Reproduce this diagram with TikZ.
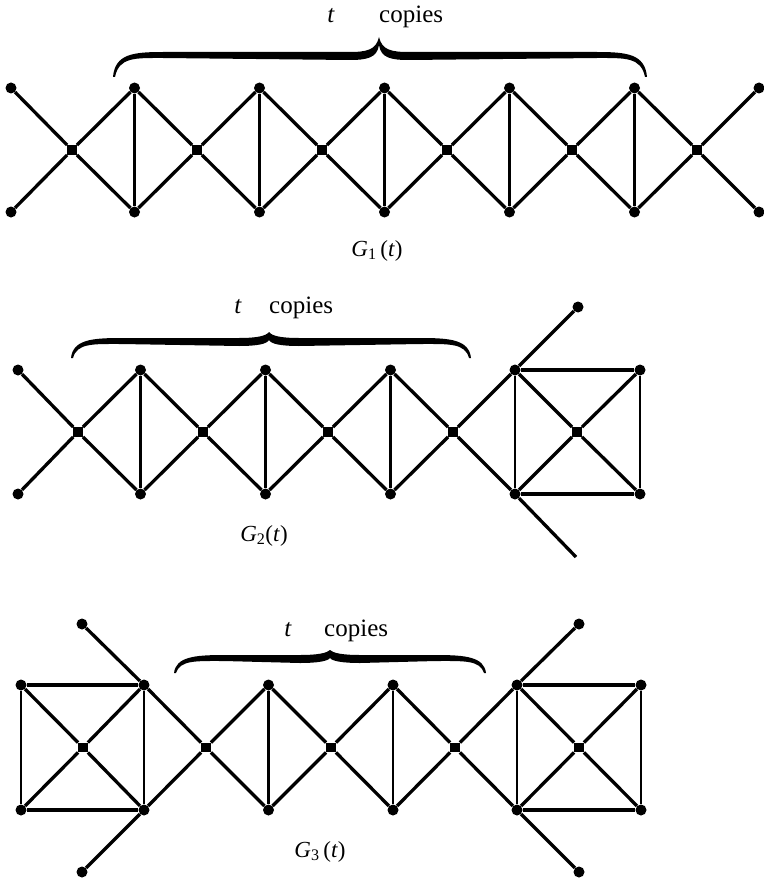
\documentclass[tikz,border=0pt]{standalone}
\usepackage{fontspec}
\setmainfont{Liberation Serif}
\newcommand{\tcbrace}[6]{%
  \fill[black] (#1,#6) .. controls ({#1+2},{#5-1}) and ({#1+20},{#5-3}) .. ({#1+50},{#5-3})
    -- ({#3-30},{#5-3}) .. controls ({#3-12},{#5-3}) and ({#3-3},{#5-5}) .. (#3,#4)
    .. controls ({#3+3},{#5-5}) and ({#3+12},{#5-3}) .. ({#3+30},{#5-3})
    -- ({#2-50},{#5-3}) .. controls ({#2-20},{#5-3}) and ({#2-2},{#5-1}) .. (#2,#6)
    -- ({#2-2},#6) .. controls ({#2-6},{#5+2}) and ({#2-22},{#5+3}) .. ({#2-50},{#5+3})
    -- ({#3+30},{#5+5}) .. controls ({#3+12},{#5+5}) and ({#3+2},{#5+3}) .. (#3,{#4+8})
    .. controls ({#3-2},{#5+3}) and ({#3-12},{#5+5}) .. ({#3-30},{#5+5})
    -- ({#1+50},{#5+3}) .. controls ({#1+22},{#5+3}) and ({#1+6},{#5+2}) .. ({#1+2},#6) -- cycle;}
\begin{document}
\begin{tikzpicture}[x=1pt,y=-1pt,
  dot/.style={circle,fill=black,inner sep=0pt,minimum size=11pt},
  sqv/.style={rectangle,fill=black,inner sep=0pt,minimum size=9.5pt},
  edg/.style={line width=3.3pt},
  vedg/.style={line width=2.8pt},
  lbl/.style={inner sep=0pt,font=\fontsize{25}{30}\selectfont},
  glbl/.style={inner sep=0pt,font=\fontsize{23}{28}\selectfont}]
\fill[white] (0,0) rectangle (763,880);
\useasboundingbox (0,0) rectangle (763,880);

% ---------------- G1 ----------------
\node[dot] (at0) at (11,88) {};
\node[dot] (ab0) at (11,212) {};
\foreach \i in {0,...,5} {\node[sqv] (am\i) at ({72+125*\i},150) {};}
\foreach \i in {1,...,5} {
  \node[dot] (at\i) at ({72+125*\i-62.5},88) {};
  \node[dot] (ab\i) at ({72+125*\i-62.5},212) {};}
\node[dot] (at6) at (759,88) {};
\node[dot] (ab6) at (759,212) {};
\foreach \i [evaluate=\i as \j using int(\i+1)] in {0,...,5} {
  \draw[edg] (am\i) -- (at\i) (am\i) -- (ab\i) (am\i) -- (at\j) (am\i) -- (ab\j);}
\foreach \i in {1,...,5} {\draw[vedg] (at\i) -- (ab\i);}
\tcbrace{113}{647}{379}{37}{55}{77}
\node[lbl,anchor=base] (g1t) at (331,23) {\textit{t}};
\node[lbl,anchor=base west] (g1c) at (379,23) {copies};
\node[glbl,anchor=base] (g1l) at (377,256) {\textit{G}\textsubscript{1}\,(\textit{t})};

% ---------------- G2 ----------------
\node[dot] (bt0) at (18,370) {};
\node[dot] (bb0) at (18,494) {};
\foreach \i in {0,...,3} {\node[sqv] (bm\i) at ({78+125*\i},432) {};}
\foreach \i in {1,...,3} {
  \node[dot] (bt\i) at ({78+125*\i-62.5},370) {};
  \node[dot] (bb\i) at ({78+125*\i-62.5},494) {};}
\node[dot] (bs1) at (515,370) {};
\node[dot] (bs2) at (640,370) {};
\node[dot] (bs3) at (640,494) {};
\node[dot] (bs4) at (515,494) {};
\node[sqv] (bsc) at (577,432) {};
\node[dot] (be1) at (578,307) {};
\coordinate (be2) at (576,557);
\foreach \i [evaluate=\i as \j using int(\i+1)] in {0,...,2} {
  \draw[edg] (bm\i) -- (bt\i) (bm\i) -- (bb\i) (bm\i) -- (bt\j) (bm\i) -- (bb\j);}
\draw[edg] (bm3) -- (bt3) (bm3) -- (bb3);
\foreach \i in {1,...,3} {\draw[vedg] (bt\i) -- (bb\i);}
\draw[edg] (bm3) -- (bs1) -- (be1);
\draw[edg] (bm3) -- (bs4) -- (be2);
\draw[edg] (bs1) -- (bs2) (bs4) -- (bs3);
\draw[vedg] (bs1) -- (bs4) (bs2) -- (bs3);
\draw[edg] (bs1) -- (bsc) -- (bs3) (bs2) -- (bsc) -- (bs4);
\tcbrace{71}{471}{269}{332}{341}{358}
\node[lbl,anchor=base] (g2t) at (238,313) {\textit{t}};
\node[lbl,anchor=base west] (g2c) at (269,313) {copies};
\node[glbl,anchor=base] (g2l) at (264,541) {\textit{G}\textsubscript{2}(\textit{t})};

% ---------------- G3 ----------------
\node[dot] (cs1) at (21,685) {};
\node[dot] (cs2) at (144,685) {};
\node[dot] (cs3) at (144,810) {};
\node[dot] (cs4) at (21,810) {};
\node[sqv] (csc) at (83,747.5) {};
\node[dot] (ce1) at (82,624) {};
\node[dot] (ce2) at (82,872) {};
\node[sqv] (cm1) at (206,747.5) {};
\node[sqv] (cm2) at (331,747.5) {};
\node[sqv] (cm3) at (455,747.5) {};
\node[dot] (ct1) at (268.5,685) {};
\node[dot] (cb1) at (268.5,810) {};
\node[dot] (ct2) at (393,685) {};
\node[dot] (cb2) at (393,810) {};
\node[dot] (ds1) at (517,685) {};
\node[dot] (ds2) at (641,685) {};
\node[dot] (ds3) at (641,810) {};
\node[dot] (ds4) at (517,810) {};
\node[sqv] (dsc) at (579,747.5) {};
\node[dot] (de1) at (579,624) {};
\node[dot] (de2) at (579,872) {};
% left K5
\draw[edg] (cs1) -- (cs2) (cs4) -- (cs3);
\draw[vedg] (cs1) -- (cs4) (cs2) -- (cs3);
\draw[edg] (cs1) -- (csc) -- (cs3) (cs2) -- (csc) -- (cs4);
\draw[edg] (ce1) -- (cs2) -- (cm1);
\draw[edg] (ce2) -- (cs3) -- (cm1);
% chain
\draw[edg] (cm1) -- (ct1) -- (cm2) -- (ct2) -- (cm3);
\draw[edg] (cm1) -- (cb1) -- (cm2) -- (cb2) -- (cm3);
\draw[vedg] (ct1) -- (cb1) (ct2) -- (cb2);
% right K5
\draw[edg] (cm3) -- (ds1) -- (de1);
\draw[edg] (cm3) -- (ds4) -- (de2);
\draw[edg] (ds1) -- (ds2) (ds4) -- (ds3);
\draw[vedg] (ds1) -- (ds4) (ds2) -- (ds3);
\draw[edg] (ds1) -- (dsc) -- (ds3) (ds2) -- (dsc) -- (ds4);
\tcbrace{174}{486}{330}{650}{658}{673}
\node[lbl,anchor=base] (g3t) at (288,636) {\textit{t}};
\node[lbl,anchor=base west] (g3c) at (324,636) {copies};
\node[glbl,anchor=base] (g3l) at (320,857) {\textit{G}\textsubscript{3}\,(\textit{t})};
\end{tikzpicture}
\end{document}
